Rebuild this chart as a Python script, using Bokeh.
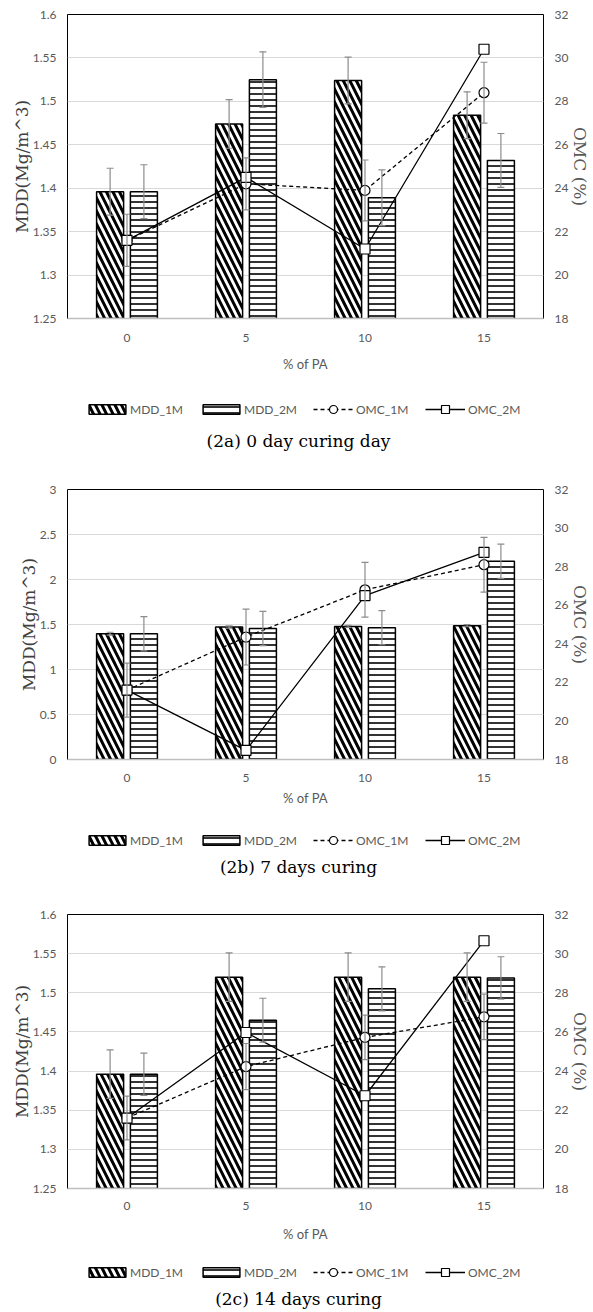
from bokeh.plotting import figure
from bokeh.models import (Range1d, LinearAxis, FixedTicker, Whisker, TeeHead,
                          ColumnDataSource, Legend, LegendItem, Label, BoxAnnotation)
from bokeh.transform import dodge
from bokeh.layouts import column
from bokeh.embed import file_html
from bokeh.resources import INLINE

# ---------------- data ----------------
pa = ["0", "5", "10", "15"]

# (2a) 0 day curing
mdd_1m_a = [1.396, 1.474, 1.524, 1.484]
mdd_1m_err_a = [0.027, 0.028, 0.027, 0.027]
mdd_2m_a = [1.396, 1.525, 1.389, 1.432]
mdd_2m_err_a = [0.031, 0.032, 0.032, 0.031]
omc_1m_a = [21.6, 24.2, 23.9, 28.4]
omc_1m_err_a = [1.2, 1.2, 1.4, 1.4]
omc_2m_a = [21.6, 24.5, 21.2, 30.4]

# (2b) 7 days curing
mdd_1m_b = [1.398, 1.472, 1.479, 1.487]
mdd_1m_err_b = [0.016, 0.012, 0.012, 0.012]
mdd_2m_b = [1.398, 1.455, 1.465, 2.202]
mdd_2m_err_b = [0.19, 0.19, 0.19, 0.19]
omc_1m_b = [21.6, 24.35, 26.8, 28.1]
omc_1m_err_b = [1.4, 1.45, 1.42, 1.42]
omc_2m_b = [21.6, 18.47, 26.5, 28.74]

# (2c) 14 days curing
mdd_1m_c = [1.396, 1.52, 1.52, 1.52]
mdd_1m_err_c = [0.031, 0.031, 0.031, 0.031]
mdd_2m_c = [1.396, 1.465, 1.505, 1.519]
mdd_2m_err_c = [0.027, 0.028, 0.028, 0.027]
omc_1m_c = [21.6, 24.23, 25.72, 26.77]
omc_1m_err_c = [1.12, 1.18, 1.14, 1.16]
omc_2m_c = [21.6, 25.97, 22.74, 30.66]

mdd_ticks_ac = [1.25, 1.3, 1.35, 1.4, 1.45, 1.5, 1.55, 1.6]
mdd_ticks_b = [0, 0.5, 1, 1.5, 2, 2.5, 3]
omc_ticks = [18, 20, 22, 24, 26, 28, 30, 32]

captions = ["(2a) 0 day curing day", "(2b) 7 days curing", "(2c) 14 days curing"]
series = ["MDD_1M", "MDD_2M", "OMC_1M", "OMC_2M"]

# ---------------- styling ----------------
TICK_FONT = "Lato"
TICK_COLOR = "#595959"
SERIF = "DejaVu Serif"
OFF = 0.142
BW = 0.227
W = 593
FL = 67   # frame left (frames are aligned in the column)


def fmt(t):
    return f"{t:g}"


def make_source(mdd1, e1, mdd2, e2, omc1, oe1, omc2):
    return ColumnDataSource(dict(
        pa=pa, mdd1=mdd1, mdd2=mdd2, omc1=omc1, omc2=omc2,
        u1=[v + e for v, e in zip(mdd1, e1)], l1=[v - e for v, e in zip(mdd1, e1)],
        u2=[v + e for v, e in zip(mdd2, e2)], l2=[v - e for v, e in zip(mdd2, e2)],
        ou=[v + e for v, e in zip(omc1, oe1)], ol=[v - e for v, e in zip(omc1, oe1)],
    ))


def add_series(p, src, base):
    b1 = p.vbar(x=dodge("pa", -OFF, range=p.x_range), top="mdd1", bottom=base,
                width=BW, source=src, fill_color="white", line_color="black",
                line_width=1.5, hatch_pattern="\\", hatch_color="black",
                hatch_weight=3, hatch_scale=13)
    b2 = p.vbar(x=dodge("pa", OFF, range=p.x_range), top="mdd2", bottom=base,
                width=BW, source=src, fill_color="white", line_color="black",
                line_width=1.5, hatch_pattern="-", hatch_color="black",
                hatch_weight=1.6, hatch_scale=6)
    l1 = p.line(x="pa", y="omc1", source=src, y_range_name="omc",
                line_color="black", line_width=1.3, line_dash="4 3")
    l2 = p.line(x="pa", y="omc2", source=src, y_range_name="omc",
                line_color="black", line_width=1.3)
    s1 = p.scatter(x="pa", y="omc1", source=src, y_range_name="omc", marker="circle",
                   size=10, fill_color="white", line_color="black", line_width=1.2)
    s2 = p.scatter(x="pa", y="omc2", source=src, y_range_name="omc", marker="square",
                   size=10, fill_color="white", line_color="black", line_width=1.2)
    return b1, b2, l1, l2, s1, s2


def make_main(src, yticks, g):
    p = figure(x_range=pa, y_range=Range1d(yticks[0], yticks[-1]),
               width=W, height=g["h"], title=None,
               output_backend="svg", toolbar_location=None,
               min_border_top=g["top"], min_border_bottom=g["bottom"],
               min_border_left=FL, min_border_right=47)
    p.x_range.range_padding = 0
    p.outline_line_color = "black"
    p.outline_line_width = 1
    p.extra_y_ranges = {"omc": Range1d(omc_ticks[0], omc_ticks[-1])}

    ya = p.yaxis[0]
    ya.ticker = FixedTicker(ticks=yticks)
    ya.major_label_overrides = {t: fmt(t) for t in yticks}
    ya.axis_line_color = None
    ya.major_tick_line_color = None
    ya.minor_tick_line_color = None
    ya.major_tick_out = 0
    ya.major_tick_in = 0
    ya.major_label_standoff = 11
    ya.major_label_text_font = TICK_FONT
    ya.major_label_text_font_size = "12px"
    ya.major_label_text_color = TICK_COLOR
    ya.axis_label = "MDD(Mg/m^3)"
    ya.axis_label_text_font = SERIF
    ya.axis_label_text_font_size = "17px"
    ya.axis_label_text_font_style = "normal"
    ya.axis_label_text_color = "#404040"
    ya.axis_label_standoff = -2

    ra = LinearAxis(y_range_name="omc", ticker=FixedTicker(ticks=omc_ticks))
    ra.axis_line_color = None
    ra.major_tick_line_color = None
    ra.minor_tick_line_color = None
    ra.major_tick_out = 0
    ra.major_tick_in = 0
    ra.major_label_standoff = 11
    ra.major_label_text_font = TICK_FONT
    ra.major_label_text_font_size = "12px"
    ra.major_label_text_color = TICK_COLOR
    ra.axis_label = "OMC (%)"
    ra.axis_label_text_font = SERIF
    ra.axis_label_text_font_size = "17px"
    ra.axis_label_text_font_style = "normal"
    ra.axis_label_text_color = "#595959"
    ra.axis_label_standoff = -1
    p.add_layout(ra, "right")

    xa = p.xaxis[0]
    xa.axis_line_color = "#bfbfbf"
    xa.axis_line_width = 1.5
    xa.major_tick_line_color = None
    xa.minor_tick_line_color = None
    xa.major_tick_out = 0
    xa.major_tick_in = 0
    xa.major_label_standoff = g["xstand"]
    xa.major_label_text_font = TICK_FONT
    xa.major_label_text_font_size = "12px"
    xa.major_label_text_color = TICK_COLOR
    xa.axis_label = "% of PA"
    xa.axis_label_text_font = TICK_FONT
    xa.axis_label_text_font_size = "13px"
    xa.axis_label_text_font_style = "normal"
    xa.axis_label_text_color = TICK_COLOR
    xa.axis_label_standoff = g["xlab"]

    p.xgrid.grid_line_color = None
    p.ygrid.grid_line_color = "#d9d9d9"
    p.ygrid.grid_line_width = 1
    p.ygrid.ticker = FixedTicker(ticks=yticks[1:-1])

    add_series(p, src, yticks[0])

    ecol = "#8c8c8c"
    for base, up, lo, yr in [(dodge("pa", -OFF, range=p.x_range), "u1", "l1", "default"),
                             (dodge("pa", OFF, range=p.x_range), "u2", "l2", "default"),
                             ("pa", "ou", "ol", "omc")]:
        w = Whisker(base=base, upper=up, lower=lo, source=src, y_range_name=yr,
                    line_color=ecol, line_width=1.2, level="annotation",
                    upper_head=TeeHead(size=7, line_color=ecol, line_width=1.2),
                    lower_head=TeeHead(size=7, line_color=ecol, line_width=1.2))
        p.add_layout(w)
    return p


def make_footer(src, caption, f):
    # legend + caption strip; its series lie far outside its ranges and are covered
    p = figure(x_range=pa, y_range=Range1d(1000, 1001), width=W, height=f["h"],
               title=None, output_backend="svg", toolbar_location=None,
               x_axis_location=None, y_axis_location=None, min_border=0,
               min_border_left=FL, min_border_right=47)
    p.x_range.range_padding = 0
    p.outline_line_color = None
    p.grid.visible = False
    p.extra_y_ranges = {"omc": Range1d(1000, 1001)}
    b1, b2, l1, l2, s1, s2 = add_series(p, src, 0)

    p.add_layout(BoxAnnotation(fill_color="white", fill_alpha=1, line_alpha=0,
                               level="annotation"))

    T = f["leg"]
    legA = Legend(items=[LegendItem(label=series[0], renderers=[b1]),
                         LegendItem(label=series[1], renderers=[b2])],
                  location=(84 - FL, T - 7.5), orientation="horizontal",
                  glyph_width=46, glyph_height=12, label_height=12, label_width=68,
                  label_standoff=0, spacing=0, padding=0, margin=0,
                  border_line_color=None, background_fill_alpha=0,
                  label_text_font=TICK_FONT, label_text_font_size="12px",
                  label_text_color=TICK_COLOR)
    legB = Legend(items=[LegendItem(label=series[2], renderers=[l1, s1]),
                         LegendItem(label=series[3], renderers=[l2, s2])],
                  location=(313 - FL, T - 10), orientation="horizontal",
                  glyph_width=40, glyph_height=20, label_height=20, label_width=69,
                  label_standoff=3, spacing=0, padding=0, margin=0,
                  border_line_color=None, background_fill_alpha=0,
                  label_text_font=TICK_FONT, label_text_font_size="12px",
                  label_text_color=TICK_COLOR)
    p.add_layout(legA)
    p.add_layout(legB)

    cap = Label(x=298 - FL, y=f["cap"], x_units="screen", y_units="screen",
                text=caption, text_font=SERIF, text_font_size="17px",
                text_align="center", text_baseline="middle", text_color="black")
    p.add_layout(cap)
    return p


geo_a = dict(h=378, top=14, bottom=60, xstand=15, xlab=11)
geo_b = dict(h=354, top=34, bottom=50, xstand=14, xlab=5)
geo_c = dict(h=366, top=34, bottom=58, xstand=13, xlab=13)
foot_a = dict(h=77, leg=46, cap=15)
foot_b = dict(h=71, leg=40, cap=14)
foot_c = dict(h=64, leg=38, cap=12)

srcA = make_source(mdd_1m_a, mdd_1m_err_a, mdd_2m_a, mdd_2m_err_a, omc_1m_a, omc_1m_err_a, omc_2m_a)
srcB = make_source(mdd_1m_b, mdd_1m_err_b, mdd_2m_b, mdd_2m_err_b, omc_1m_b, omc_1m_err_b, omc_2m_b)
srcC = make_source(mdd_1m_c, mdd_1m_err_c, mdd_2m_c, mdd_2m_err_c, omc_1m_c, omc_1m_err_c, omc_2m_c)

layout = column(
    make_main(srcA, mdd_ticks_ac, geo_a), make_footer(srcA, captions[0], foot_a),
    make_main(srcB, mdd_ticks_b, geo_b), make_footer(srcB, captions[1], foot_b),
    make_main(srcC, mdd_ticks_ac, geo_c), make_footer(srcC, captions[2], foot_c),
    spacing=0)
open("out.html", "w").write(file_html(layout, INLINE))
